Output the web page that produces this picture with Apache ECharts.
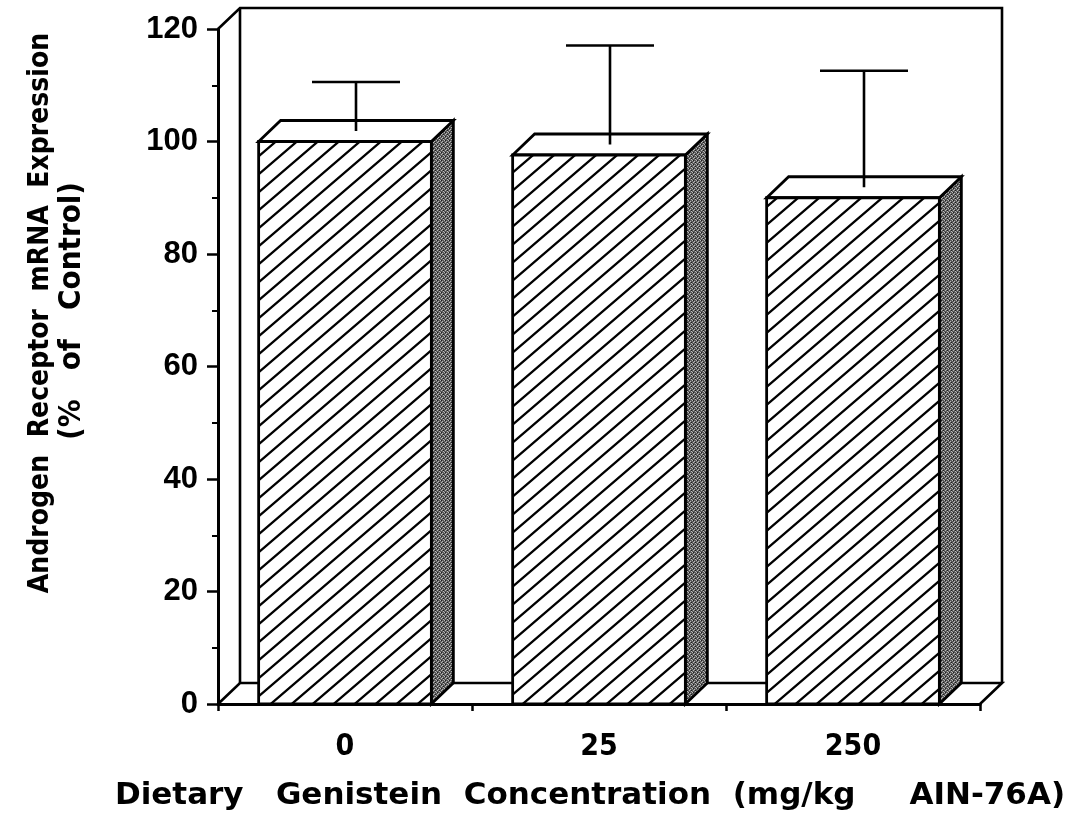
<!DOCTYPE html>
<html><head><meta charset="utf-8">
<script src="https://cdn.jsdelivr.net/npm/echarts@6/dist/echarts.min.js"></script>
<style>html,body{margin:0;padding:0;background:#fff}#c{width:1073px;height:817px}</style>
</head><body><div id="c"></div>
<script>
// ---- data ----
const categories = ['0', '25', '250'];
const meanValues = [100, 97.6, 90];
const errorValues = [8.7, 17.6, 20.7];
const yMin = 0, yMax = 120, yStep = 20;
const yTitleLine1 = 'Androgen  Receptor  mRNA  Expression';
const yTitleLine2 = '(%   of   Control)';
const xTitle = 'Dietary   Genistein  Concentration  (mg/kg     AIN-76A)';

// ---- style ----
const DX = 22, DY = -21;
const BOLD = "'Liberation Sans', Arial, sans-serif";
const COND = "'DejaVu Sans Condensed', 'Liberation Sans', Arial, sans-serif";

function makeHatch() {
  const W = 21, H = 18;
  const c = document.createElement('canvas'); c.width = W; c.height = H;
  const g = c.getContext('2d');
  g.fillStyle = '#fff'; g.fillRect(0, 0, W, H);
  g.strokeStyle = '#000'; g.lineWidth = 2.3;
  g.beginPath();
  for (let k = -1; k <= 1; k++) {
    const x0 = k * W;
    g.moveTo(x0 - 2, H + 2 * H / W);
    g.lineTo(x0 + W + 2, -2 * H / W);
  }
  g.stroke();
  return c;
}
function makeStipple() {
  const c = document.createElement('canvas'); c.width = 4; c.height = 4;
  const g = c.getContext('2d');
  g.fillStyle = '#5a5a5a'; g.fillRect(0, 0, 4, 4);
  g.fillStyle = '#b8b8b8';
  [[0,0],[2,1],[1,2],[3,3]].forEach(p => g.fillRect(p[0], p[1], 1, 1));
  g.fillStyle = '#1e1e1e';
  [[1,0],[3,2]].forEach(p => g.fillRect(p[0], p[1], 1, 1));
  return c;
}
const hatch = { image: makeHatch(), repeat: 'repeat' };
const stipple = { image: makeStipple(), repeat: 'repeat' };

function renderFrame(params, api) {
  const cs = params.coordSys;
  const x0 = cs.x, x1 = cs.x + cs.width;
  const yT = api.coord([0, yMax])[1], yB = api.coord([0, yMin])[1];
  const st = { fill: 'none', stroke: '#000', lineWidth: 2.6 };
  return { type: 'group', children: [
    { type: 'polyline', shape: { points: [[x0, yT], [x0 + DX, yT + DY], [x1 + DX, yT + DY], [x1 + DX, yB + DY]] }, style: st },
    { type: 'polyline', shape: { points: [[x0 + DX, yT + DY], [x0 + DX, yB + DY]] }, style: st },
    { type: 'polyline', shape: { points: [[x0, yB], [x0 + DX, yB + DY], [x1 + DX, yB + DY], [x1, yB]] }, style: st }
  ]};
}

function renderBar(params, api) {
  const i = api.value(0), v = api.value(1), e = api.value(2);
  const base = api.coord([i, 0]);
  const top = api.coord([i, v]);
  const errTop = api.coord([i, v + e]);
  const band = api.size([1, 0])[0];
  const w = band * 0.68;
  const xl = base[0] - w / 2, xr = base[0] + w / 2, yb = base[1], yt = top[1];
  const ex = base[0] + DX / 2, ey0 = yt + DY / 2, ey1 = errTop[1] + DY / 2;
  const line = { stroke: '#000', lineWidth: 2.6 };
  return { type: 'group', children: [
    { type: 'polygon', shape: { points: [[xr, yt], [xr + DX, yt + DY], [xr + DX, yb + DY], [xr, yb]] }, style: { fill: stipple, stroke: '#000', lineWidth: 2.8 } },
    { type: 'polygon', shape: { points: [[xl, yt], [xr, yt], [xr + DX, yt + DY], [xl + DX, yt + DY]] }, style: { fill: '#fff', stroke: '#000', lineWidth: 2.8 } },
    { type: 'rect', shape: { x: xl, y: yt, width: w, height: yb - yt }, style: { fill: hatch, stroke: '#000', lineWidth: 2.8 } },
    { type: 'line', shape: { x1: ex, y1: ey0, x2: ex, y2: ey1 }, style: line },
    { type: 'line', shape: { x1: ex - 44, y1: ey1, x2: ex + 44, y2: ey1 }, style: line }
  ]};
}

const chart = echarts.init(document.getElementById('c'), null, { renderer: 'canvas' });
chart.setOption({
  backgroundColor: '#fff',
  animation: false,
  grid: { left: 218, right: 93, top: 29, bottom: 113 },
  xAxis: {
    type: 'category', data: categories, boundaryGap: true,
    axisLine: { show: true, lineStyle: { color: '#000', width: 3 } },
    axisTick: { show: true, interval: 0, length: 7, lineStyle: { color: '#000', width: 2.5 } },
    axisLabel: { color: '#000', fontSize: 30, fontWeight: 'bold', fontFamily: COND, margin: 28 },
    splitLine: { show: false }
  },
  yAxis: {
    type: 'value', min: yMin, max: yMax, interval: yStep,
    axisLine: { show: true, lineStyle: { color: '#000', width: 3 } },
    axisTick: { show: true, length: 11, lineStyle: { color: '#000', width: 2.5 } },
    minorTick: { show: true, splitNumber: 2, length: 6, lineStyle: { color: '#000', width: 2 } },
    splitLine: { show: false },
    axisLabel: { color: '#000', fontSize: 31, fontWeight: 'bold', fontFamily: BOLD, margin: 20 }
  },
  graphic: [
    { type: 'text', x: 41, y: 313, rotation: Math.PI / 2,
      style: { text: yTitleLine1, textAlign: 'center', textVerticalAlign: 'middle',
        font: "bold 28px 'DejaVu Sans Condensed', 'Liberation Sans', Arial, sans-serif", fill: '#000' } },
    { type: 'text', x: 72, y: 311, rotation: Math.PI / 2,
      style: { text: yTitleLine2, textAlign: 'center', textVerticalAlign: 'middle',
        font: "bold 31px 'DejaVu Sans Condensed', 'Liberation Sans', Arial, sans-serif", fill: '#000' } },
    { type: 'text', x: 590, y: 796,
      style: { text: xTitle, textAlign: 'center', textVerticalAlign: 'middle',
        font: "bold 31px 'DejaVu Sans', 'Liberation Sans', Arial, sans-serif", fill: '#000' } }
  ],
  series: [
    { type: 'custom', renderItem: renderFrame, data: [[0, 0]], clip: false, silent: true, z: 1 },
    { type: 'custom', renderItem: renderBar, encode: { x: 0, y: 1 },
      data: categories.map((c, i) => [i, meanValues[i], errorValues[i]]), clip: false, silent: true, z: 3 }
  ]
});
</script></body></html>
